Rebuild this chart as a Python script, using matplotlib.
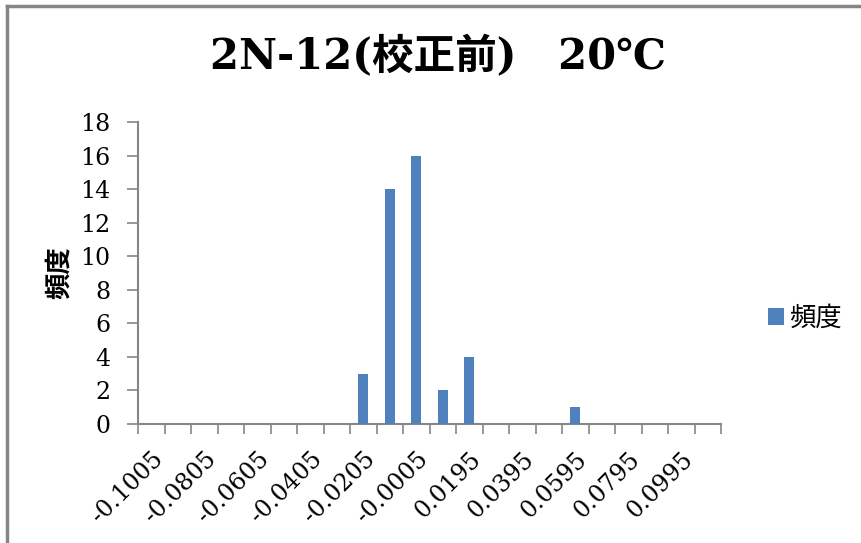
import numpy as np
import matplotlib.pyplot as plt
from matplotlib.lines import Line2D

plt.rcParams['font.family'] = ['DejaVu Serif', 'Noto Sans CJK JP']

# histogram bins (class values) and counts
bins = [-0.1005, -0.0905, -0.0805, -0.0705, -0.0605, -0.0505, -0.0405, -0.0305,
        -0.0205, -0.0105, -0.0005, 0.0095, 0.0195, 0.0295, 0.0395, 0.0495,
        0.0595, 0.0695, 0.0795, 0.0895, 0.0995, 0.1095]
counts = [0, 0, 0, 0, 0, 0, 0, 0, 3, 14, 16, 2, 4, 0, 0, 0, 1, 0, 0, 0, 0, 0]
title = "2N-12(校正前)　20℃"
series_name = "頻度"

grey = "#868686"
blue = "#4F81BD"

fig = plt.figure(figsize=(8.62, 5.43), dpi=100)
ax = fig.add_axes([138 / 862, 1 - 424 / 543, (721 - 138) / 862, (424 - 122) / 543])

x = np.arange(len(bins))
ax.bar(x, counts, width=0.38, color=blue, label=series_name, zorder=3)

ax.set_xlim(-0.5, len(bins) - 0.5)
ax.set_ylim(0, 18)
ax.set_yticks(range(0, 19, 2))

# category boundaries as ticks, labels every other category
ax.set_xticks(np.arange(-0.5, len(bins), 1.0))
ax.set_xticklabels([])
ax.set_xticks(x[::2], minor=True)
ax.set_xticklabels(["%.4f" % b for b in bins[::2]], minor=True,
                   rotation=45, ha='right', rotation_mode='anchor')
ax.tick_params(axis='x', which='major', length=7, color=grey, width=1.2)
ax.tick_params(axis='x', which='minor', length=0, pad=17, labelsize=17)
ax.tick_params(axis='y', length=8, color=grey, width=1.2, labelsize=17, pad=12)

for s in ['top', 'right']:
    ax.spines[s].set_visible(False)
for s in ['left', 'bottom']:
    ax.spines[s].set_color(grey)
    ax.spines[s].set_linewidth(1.5)

ax.set_ylabel(series_name, fontsize=19, fontweight='bold', labelpad=6)

fig.text(0.508, 0.895, title, ha='center', va='center', fontsize=30,
         fontweight='bold')

ax.legend(loc='center left', bbox_to_anchor=(1.04, 0.35), frameon=False,
          fontsize=19, handlelength=0.6, handleheight=0.6, handletextpad=0.2)

# outer chart border (left and top visible)
fig.add_artist(Line2D([7 / 862, 7 / 862], [0, 1 - 6 / 543], color=grey, lw=2.5,
                      transform=fig.transFigure))
fig.add_artist(Line2D([7 / 862, 1], [1 - 6 / 543, 1 - 6 / 543], color=grey, lw=2.5,
                      transform=fig.transFigure))

fig.savefig("out.png", dpi=100)
